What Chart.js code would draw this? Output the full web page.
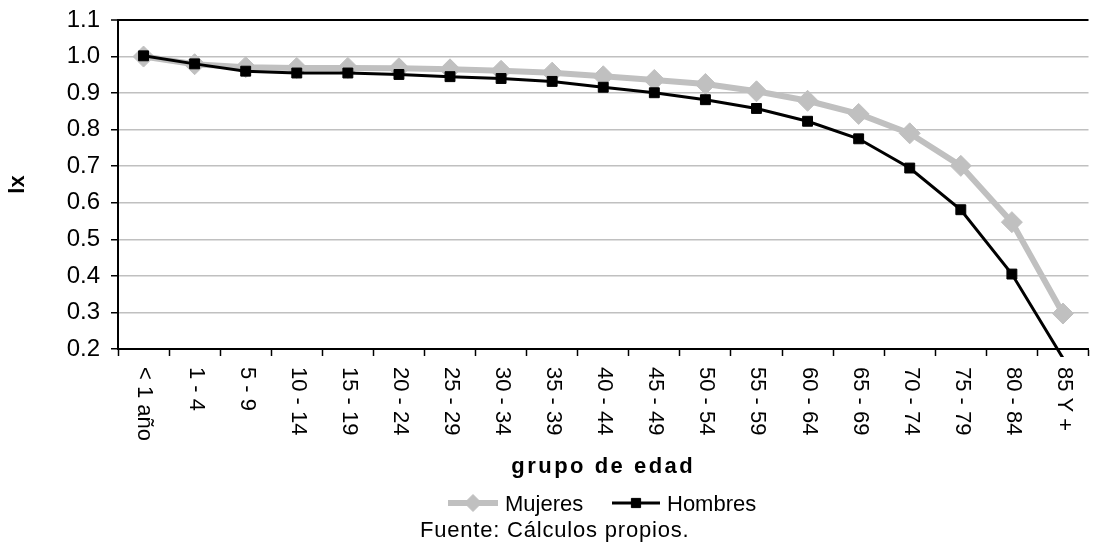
<!DOCTYPE html>
<html lang="es">
<head>
<meta charset="utf-8">
<title>lx por grupo de edad</title>
<script src="https://cdn.jsdelivr.net/npm/chart.js@4/dist/chart.umd.min.js"></script>
<style>
  html, body { margin: 0; padding: 0; background: #ffffff; overflow: hidden; width: 1093px; height: 545px; }
  #wrap { position: relative; width: 1093px; height: 545px; overflow: hidden; }
  /* the plot area runs a few pixels past the right edge of the page */
  #c { position: absolute; left: 0; top: 0; width: 1100px; height: 545px; }
</style>
</head>
<body>
<div id="wrap"><canvas id="c" width="1100" height="545"></canvas></div>
<script>
// Grupos de edad
const categories = ['< 1 año', '1 - 4', '5 - 9', '10 - 14', '15 - 19', '20 - 24', '25 - 29',
  '30 - 34', '35 - 39', '40 - 44', '45 - 49', '50 - 54', '55 - 59', '60 - 64',
  '65 - 69', '70 - 74', '75 - 79', '80 - 84', '85 Y +'];

// Sobrevivientes lx (fracción)
const mujeres = [1.000, 0.979, 0.971, 0.969, 0.969, 0.968, 0.965, 0.961, 0.956, 0.946,
  0.936, 0.925, 0.905, 0.879, 0.843, 0.790, 0.701, 0.547, 0.297];
const hombres = [1.002, 0.980, 0.960, 0.955, 0.955, 0.951, 0.945, 0.940, 0.932, 0.916,
  0.901, 0.882, 0.858, 0.823, 0.775, 0.695, 0.581, 0.405, 0.175];

// Eje vertical
const yMin = 0.2;
const yMax = 1.1;
const yStep = 0.1;

const seriesNames = ['Mujeres', 'Hombres'];
const xTitle = 'grupo de edad';
const yTitle = 'lx';
const sourceNote = 'Fuente: Cálculos propios.';

const FONT = "'Liberation Sans', Arial, sans-serif";
const GRAY = '#c0c0c0';

function marker(ctx, style, radius, x, y, color) {
  ctx.save();
  ctx.fillStyle = color;
  ctx.strokeStyle = color;
  ctx.lineWidth = 1;
  if (Chart.helpers && Chart.helpers.drawPoint) {
    Chart.helpers.drawPoint(ctx, { pointStyle: style, radius: radius, rotation: 0, borderWidth: 1 }, x, y);
  } else {
    ctx.beginPath();
    if (style === 'rectRot') {
      ctx.moveTo(x - radius, y); ctx.lineTo(x, y - radius);
      ctx.lineTo(x + radius, y); ctx.lineTo(x, y + radius);
    } else {
      const s = radius * Math.SQRT1_2;
      ctx.rect(x - s, y - s, 2 * s, 2 * s);
    }
    ctx.closePath(); ctx.fill(); ctx.stroke();
  }
  ctx.restore();
}

// Etiquetas giradas, títulos de ejes, leyenda y nota de fuente
const annotations = {
  id: 'annotations',
  afterDraw(chart) {
    const ctx = chart.ctx;
    const area = chart.chartArea;
    const xs = chart.scales.x;

    ctx.save();
    ctx.fillStyle = '#000';

    // category labels, read top to bottom
    ctx.font = '22px ' + FONT;
    ctx.textAlign = 'left';
    ctx.textBaseline = 'middle';
    categories.forEach((lab, i) => {
      const px = xs.getPixelForValue(i);
      ctx.save();
      ctx.translate(px + 1, area.bottom + 18);
      ctx.rotate(Math.PI / 2);
      ctx.fillText(lab, 0, 0);
      ctx.restore();
    });

    // x title
    ctx.font = 'bold 22px ' + FONT;
    ctx.textAlign = 'center';
    ctx.textBaseline = 'alphabetic';
    try { ctx.letterSpacing = '2.5px'; } catch (e) {}
    ctx.fillText(xTitle, (area.left + area.right) / 2, 473);
    try { ctx.letterSpacing = '0px'; } catch (e) {}

    // y title
    ctx.save();
    ctx.translate(18, (area.top + area.bottom) / 2);
    ctx.rotate(-Math.PI / 2);
    ctx.textAlign = 'center';
    ctx.textBaseline = 'middle';
    ctx.fillText(yTitle, 0, 0);
    ctx.restore();

    // legend
    const ly = 503;
    ctx.lineCap = 'butt';
    ctx.strokeStyle = GRAY;
    ctx.lineWidth = 6;
    ctx.beginPath(); ctx.moveTo(448, ly); ctx.lineTo(498, ly); ctx.stroke();
    marker(ctx, 'rectRot', 8.5, 473, ly, GRAY);
    ctx.strokeStyle = '#000';
    ctx.lineWidth = 3;
    ctx.beginPath(); ctx.moveTo(612, ly); ctx.lineTo(660, ly); ctx.stroke();
    marker(ctx, 'rect', 6.5, 636, ly, '#000');
    ctx.fillStyle = '#000';
    ctx.font = '22px ' + FONT;
    ctx.textAlign = 'left';
    ctx.textBaseline = 'alphabetic';
    ctx.fillText(seriesNames[0], 505, 511);
    ctx.fillText(seriesNames[1], 667, 511);

    // source note
    try { ctx.letterSpacing = '0.8px'; } catch (e) {}
    ctx.fillText(sourceNote, 420, 537);
    try { ctx.letterSpacing = '0px'; } catch (e) {}

    ctx.restore();
  }
};

new Chart(document.getElementById('c'), {
  type: 'line',
  data: {
    labels: categories,
    datasets: [
      {
        label: seriesNames[0],
        data: mujeres,
        order: 2,
        borderColor: GRAY,
        backgroundColor: GRAY,
        borderWidth: 6,
        tension: 0,
        pointStyle: 'rectRot',
        pointRadius: 10.5,
        pointBorderWidth: 1,
        pointBorderColor: GRAY,
        pointBackgroundColor: GRAY
      },
      {
        label: seriesNames[1],
        data: hombres,
        order: 1,
        borderColor: '#000',
        backgroundColor: '#000',
        borderWidth: 3,
        tension: 0,
        pointStyle: 'rect',
        pointRadius: (c) => (c.raw < yMin ? 0 : 7),
        pointBorderWidth: 1,
        pointBorderColor: '#000',
        pointBackgroundColor: '#000',
        clip: { left: 20, top: 20, right: 20, bottom: 8 }
      }
    ]
  },
  options: {
    responsive: false,
    animation: false,
    devicePixelRatio: 1,
    layout: { padding: { top: 20, right: 4, bottom: 0, left: 0 } },
    plugins: {
      legend: { display: false },
      tooltip: { enabled: false },
      title: { display: false }
    },
    events: [],
    scales: {
      x: {
        type: 'category',
        offset: true,
        grid: {
          offset: true,
          drawOnChartArea: false,
          drawTicks: true,
          tickLength: 7,
          tickColor: '#000',
          tickWidth: 1.5
        },
        border: { display: true, color: '#000', width: 2 },
        ticks: { display: false },
        afterFit(scale) {
          scale.height = 196;
          scale.paddingLeft = 0;
          scale.paddingRight = 0;
        }
      },
      y: {
        min: yMin,
        max: yMax,
        border: { display: true, color: '#000', width: 2 },
        grid: {
          color: (c) => (c.index === c.chart.scales.y.ticks.length - 1 ? '#000' : GRAY),
          lineWidth: (c) => (c.index === c.chart.scales.y.ticks.length - 1 ? 2 : 1.5),
          tickLength: 7,
          tickColor: '#000',
          tickWidth: 1.5
        },
        ticks: {
          stepSize: yStep,
          padding: 11,
          color: '#000',
          font: { family: FONT, size: 24 },
          callback: (v) => Number(v).toFixed(1)
        },
        afterFit(scale) {
          scale.width = 118;
          scale.paddingTop = 0;
          scale.paddingBottom = 0;
        }
      }
    }
  },
  plugins: [annotations]
});
</script>
</body>
</html>
